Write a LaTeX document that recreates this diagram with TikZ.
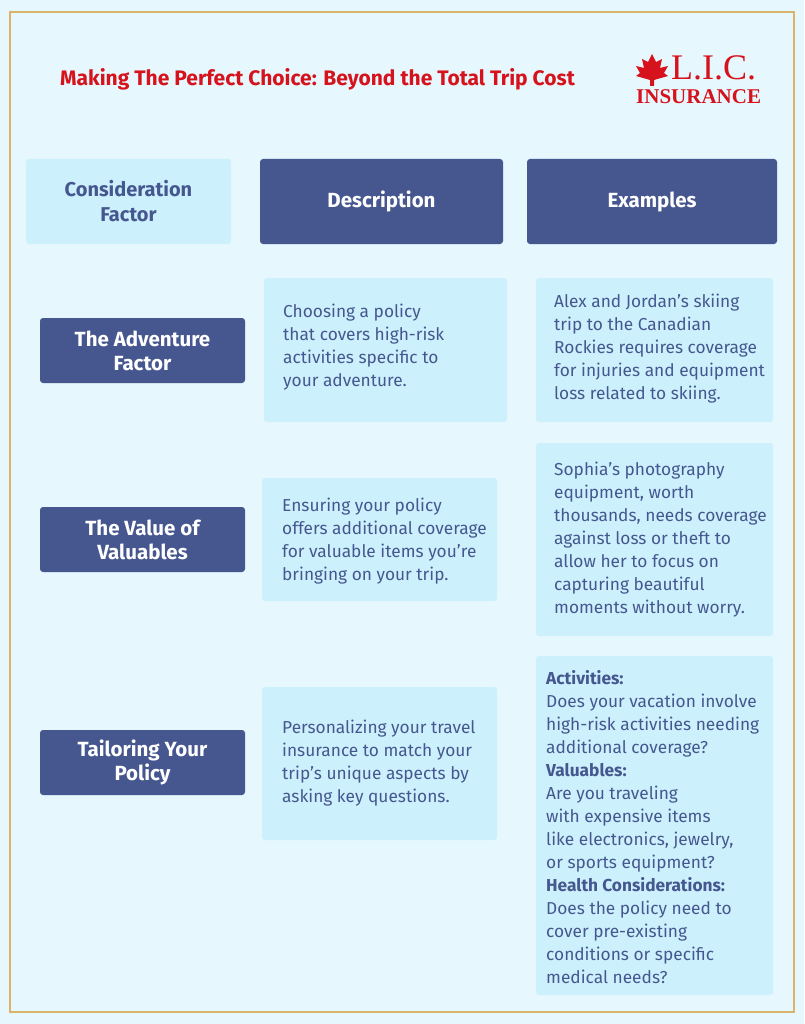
\documentclass[tikz,border=0pt]{standalone}
\usepackage{fontspec}
\setmainfont{Fira Sans}
\newfontfamily\logofont{Liberation Serif}
\usetikzlibrary{positioning}
\definecolor{pagebg}{RGB}{230,247,253}
\definecolor{framegold}{RGB}{217,180,106}
\definecolor{darkbox}{RGB}{70,87,143}
\definecolor{lightbox}{RGB}{204,241,253}
\definecolor{titlered}{RGB}{214,18,28}
\tikzset{
  darkcell/.style={
    fill=darkbox,
    rectangle,
    rounded corners=3pt,
    text=white,
    align=center,
    font=\fontsize{20.5}{24}\selectfont\bfseries
  },
  headcell/.style={
    fill=lightbox,
    rectangle,
    rounded corners=3pt,
    text=darkbox,
    align=center,
    font=\fontsize{20}{25}\selectfont\bfseries
  },
  textcell/.style={
    fill=lightbox,
    rectangle,
    rounded corners=3pt,
    text=darkbox,
    align=left,
    inner sep=0pt,
    font=\fontsize{17.3}{23}\selectfont
  }
}
\newcommand{\cell}[6]{% style, name, x1, y1, x2, y2
  \node[#1, minimum width=#5pt-#3pt, minimum height=#6pt-#4pt]
    (#2) at ({(#3+#5)/2*1pt}, {-(#4+#6)/2*1pt}) {};}
\begin{document}
\begin{tikzpicture}[x=1pt,y=-1pt]

\fill[pagebg] (0,0) rectangle (804,1024);
\useasboundingbox (0,0) rectangle (804,1024);
\draw[framegold, line width=1.5pt] (10,12) rectangle (794,1012);

% Title and logo
\node[anchor=west, text=titlered, inner sep=0pt, font=\fontsize{21}{24}\selectfont\bfseries]
  (title) at (60,79) {Making The Perfect Choice: Beyond the Total Trip Cost};
\fill[titlered] (652,54) -- (656,62) -- (662,59) -- (660,68) -- (668,66) -- (664,73)
  -- (668,76) -- (654,80) -- (654,86) -- (650,86) -- (650,80) -- (636,76) -- (640,73)
  -- (636,66) -- (644,68) -- (642,59) -- (648,62) -- cycle;
\node[anchor=west, text=titlered, inner sep=0pt, font=\fontsize{36}{36}\logofont]
  (logo) at (671,68) {L.I.C.};
\node[anchor=west, text=titlered, inner sep=0pt, font=\fontsize{21}{21}\logofont\bfseries]
  (logosub) at (636,97) {INSURANCE};

% Header row
\cell{headcell}{h1}{26}{159}{231}{244}
\node[headcell, fill=none] at (h1) {Consideration\\Factor};
\cell{darkcell}{h2}{260}{159}{503}{244}
\node[darkcell, fill=none] at (h2) {Description};
\cell{darkcell}{h3}{527}{159}{777}{244}
\node[darkcell, fill=none] at (h3) {Examples};

% Row 1
\cell{darkcell}{f1}{40}{318}{245}{383}
\node[darkcell, fill=none] at (f1) {The Adventure\\Factor};
\cell{textcell}{d1}{264}{278}{507}{422}
\node[textcell, fill=none, anchor=west] at (283,347) {Choosing a policy\\that covers high-risk\\activities specific to\\your adventure.};
\cell{textcell}{e1}{536}{278}{773}{422}
\node[textcell, fill=none, anchor=west] at (554,349) {Alex and Jordan’s skiing\\trip to the Canadian\\Rockies requires coverage\\for injuries and equipment\\loss related to skiing.};

% Row 2
\cell{darkcell}{f2}{40}{507}{245}{572}
\node[darkcell, fill=none] at (f2) {The Value of\\Valuables};
\cell{textcell}{d2}{262}{478}{497}{601}
\node[textcell, fill=none, anchor=west] at (282,541) {Ensuring your policy\\offers additional coverage\\for valuable items you’re\\bringing on your trip.};
\cell{textcell}{e2}{536}{443}{773}{636}
\node[textcell, fill=none, anchor=west] at (554,540) {Sophia’s photography\\equipment, worth\\thousands, needs coverage\\against loss or theft to\\allow her to focus on\\capturing beautiful\\moments without worry.};

% Row 3
\cell{darkcell}{f3}{40}{730}{245}{795}
\node[darkcell, fill=none] at (f3) {Tailoring Your\\Policy};
\cell{textcell}{d3}{262}{687}{497}{840}
\node[textcell, fill=none, anchor=west] at (282,763) {Personalizing your travel\\insurance to match your\\trip’s unique aspects by\\asking key questions.};
\cell{textcell}{e3}{536}{656}{773}{995}
\node[textcell, fill=none, anchor=west] at (546,827) {\textbf{Activities:}\\Does your vacation involve\\high-risk activities needing\\additional coverage?\\\textbf{Valuables:}\\Are you traveling\\with expensive items\\like electronics, jewelry,\\or sports equipment?\\\textbf{Health Considerations:}\\Does the policy need to\\cover pre-existing\\conditions or specific\\medical needs?};

\end{tikzpicture}
\end{document}
